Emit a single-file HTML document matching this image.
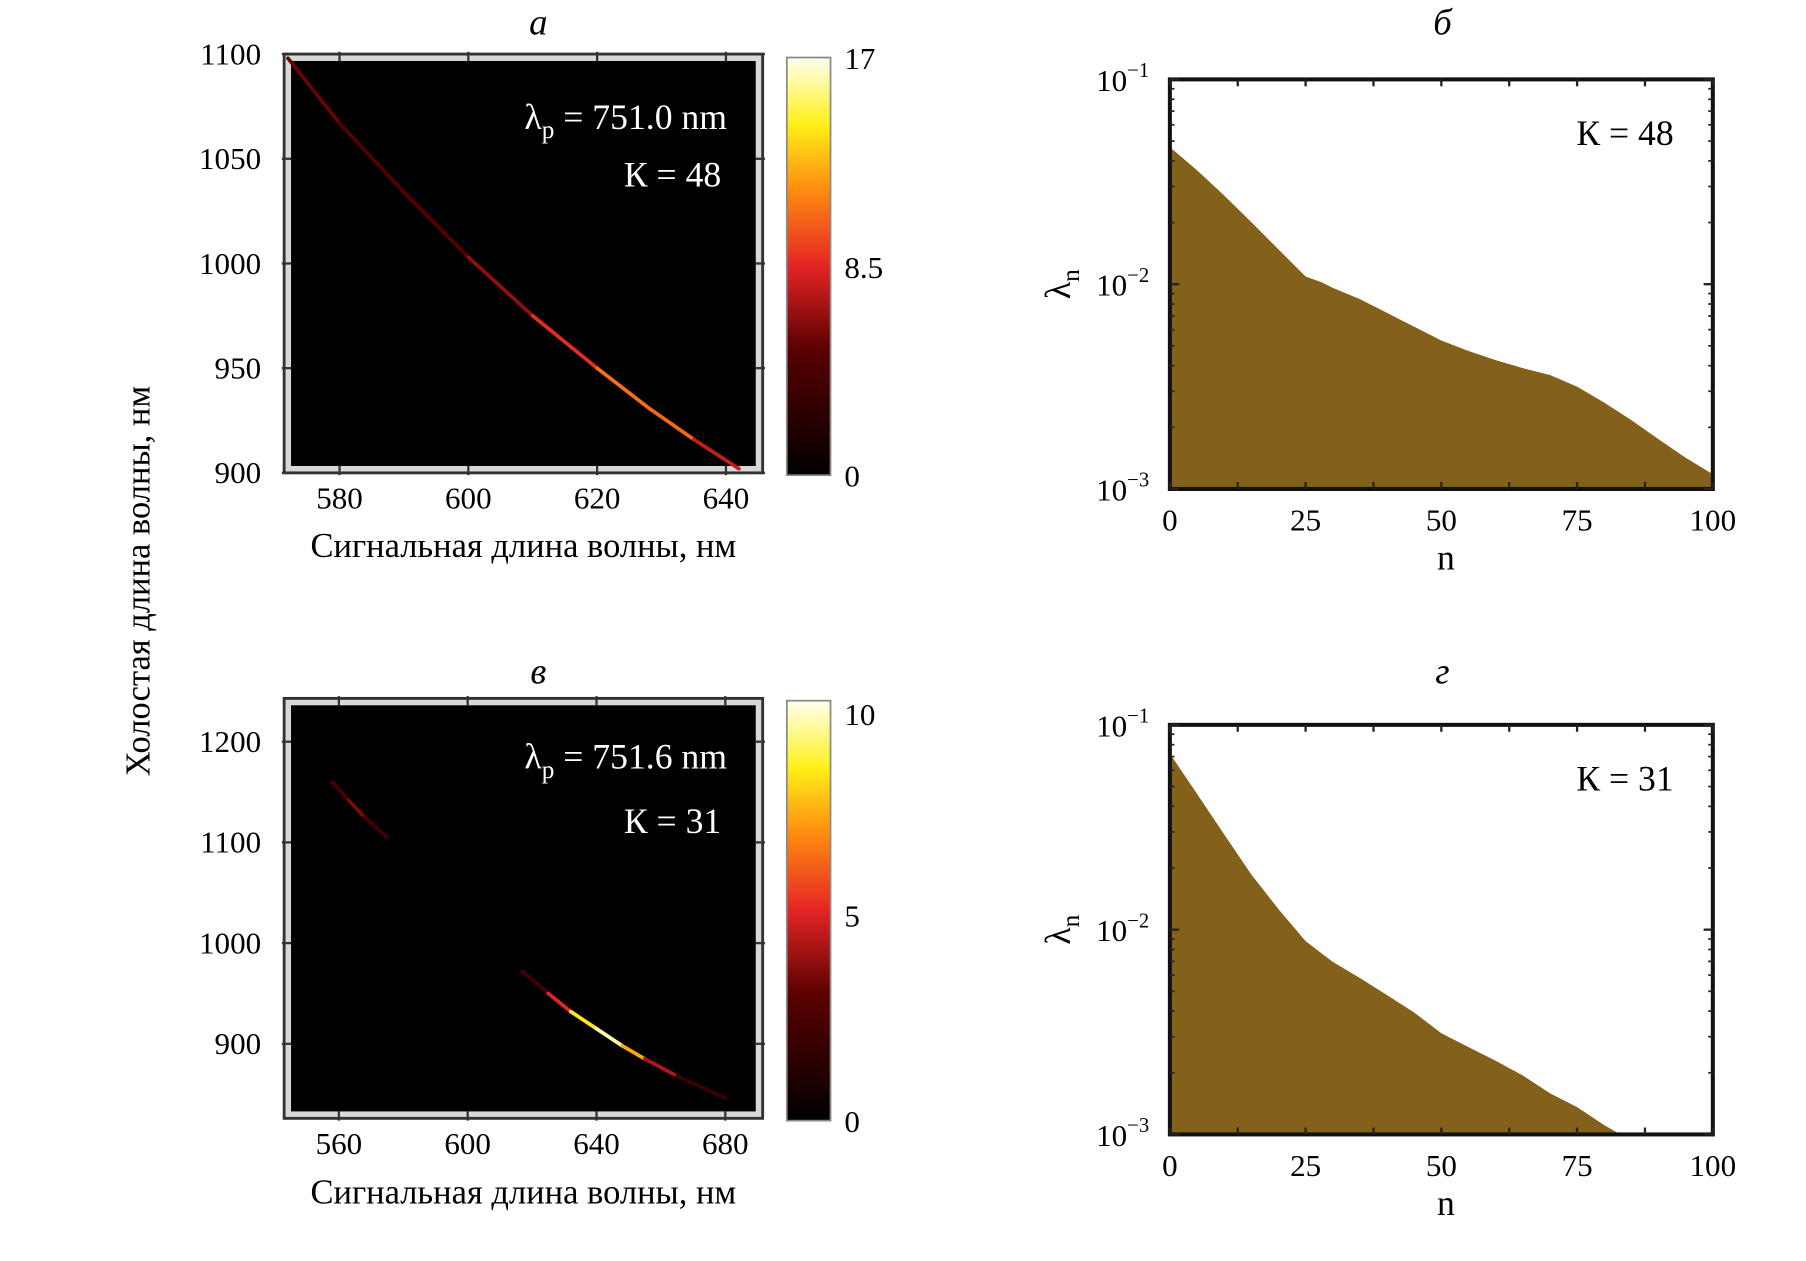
<!DOCTYPE html>
<html><head><meta charset="utf-8"><style>
html,body{margin:0;padding:0;background:#fff;}
svg{display:block;font-family:"Liberation Serif",serif;}
</style></head><body>
<svg id="fig" width="1806" height="1261" viewBox="0 0 1570 1096" preserveAspectRatio="none" xmlns="http://www.w3.org/2000/svg">
<defs>
<linearGradient id="hot" x1="0" y1="1" x2="0" y2="0">
<stop offset="0" stop-color="#000"/><stop offset="0.3" stop-color="#5a0000"/><stop offset="0.5" stop-color="#e42424"/><stop offset="0.68" stop-color="#ff8a10"/><stop offset="0.84" stop-color="#fff018"/><stop offset="1" stop-color="#fffff0"/>
</linearGradient>
</defs>
<text transform="translate(130,505) rotate(-90)" text-anchor="middle" font-size="30">Холостая длина волны, нм</text>
<g id="root"></g>
</svg>
<script>
// Panel a data
const aSignal=[572,580,590,600,610,620,628,635,642];
const aIdler=[1098,1067,1034,1003,975,950,931,916,902];
const aIntensity=[6,5,4.5,5.5,7.5,10,11.5,9.5,6];
// Panel в data
const cSignal1=[558,563,568,575];
const cIdler1=[1160,1142,1125,1105];
const cIntensity1=[1.5,3.5,3.5,1];
const cSignal2=[617,625,632,640,648,655,665,680];
const cIdler2=[972,950,932,915,898,885,868,846];
const cIntensity2=[1,3.5,6.5,10,9,5.5,3,1];
// Panel б data
const bN=[0,5,10,15,20,25,28,30,35,40,45,50,55,60,65,70,75,80,85,90,95,100];
const bVal=[0.0467,0.036,0.0271,0.0201,0.0148,0.0109,0.0102,0.0096,0.00845,0.00724,0.0062,0.00531,0.00472,0.00426,0.00389,0.0036,0.00316,0.00264,0.00217,0.00175,0.00142,0.00118];
// Panel г data
const dN=[0,5,10,15,20,25,30,35,40,45,50,55,60,65,70,75,80,83];
const dVal=[0.0724,0.046,0.0292,0.0186,0.0126,0.00879,0.00696,0.00581,0.00479,0.00394,0.00312,0.00267,0.00229,0.00194,0.00159,0.00136,0.00111,0.001];
const aXTicks=[580,600,620,640];
const aYTicks=[900,950,1000,1050,1100];
const cXTicks=[560,600,640,680];
const cYTicks=[900,1000,1100,1200];
const nTicks=[0,25,50,75,100];

const NS='http://www.w3.org/2000/svg';
const root=document.getElementById('root');
function el(tag,attrs,parent,txt){const e=document.createElementNS(NS,tag);for(const k in attrs)e.setAttribute(k,attrs[k]);if(txt!==undefined)e.textContent=txt;(parent||root).appendChild(e);return e;}
function hot(t){t=Math.max(0,Math.min(1,t));
 const st=[[0,[0,0,0]],[0.3,[90,0,0]],[0.5,[228,36,36]],[0.68,[255,138,16]],[0.84,[255,240,24]],[1,[255,255,240]]];
 for(let i=1;i<st.length;i++){if(t<=st[i][0]){const a=st[i-1],b=st[i];const f=(t-a[0])/(b[0]-a[0]);return 'rgb('+a[1].map((v,j)=>Math.round(v+(b[1][j]-v)*f)).join(',')+')';}}return 'rgb(255,255,240)';}

function heat(o){
 const g=el('g',{});
 
 
 const {x0,x1,y0,y1}=o;
 const sx=v=>x0+(v-o.xmin)/(o.xmax-o.xmin)*(x1-x0);
 const sy=v=>y1-(v-o.ymin)/(o.ymax-o.ymin)*(y1-y0);
 el('rect',{x:x0,y:y0,width:x1-x0,height:y1-y0,fill:'#d8d8d8',stroke:'#333','stroke-width':2.5},g);
 el('rect',{x:x0+6,y:y0+6,width:x1-x0-12,height:y1-y0-12,fill:'#000'},g);
 for(const s of o.series){
  for(let i=0;i<s.x.length-1;i++){
   const seg=el('line',{x1:sx(s.x[i]),y1:sy(s.y[i]),x2:sx(s.x[i+1]),y2:sy(s.y[i+1]),stroke:hot((s.v[i]+s.v[i+1])/2/o.vmax),'stroke-width':3.2,'stroke-linecap':'round'},g);
   
   
  }
 }
 o.xt.forEach(v=>{el('line',{x1:sx(v),x2:sx(v),y1:y1-6,y2:y1+2,stroke:'#333','stroke-width':2},g);el('line',{x1:sx(v),x2:sx(v),y1:y0-2,y2:y0+6,stroke:'#333','stroke-width':2},g);
  const t=el('text',{x:sx(v),y:y1+31,'text-anchor':'middle','font-size':27},g,String(v));});
 o.yt.forEach(v=>{el('line',{x1:x0-2,x2:x0+6,y1:sy(v),y2:sy(v),stroke:'#333','stroke-width':2},g);el('line',{x1:x1-6,x2:x1+2,y1:sy(v),y2:sy(v),stroke:'#333','stroke-width':2},g);
  const t=el('text',{x:x0-20,y:sy(v)+9,'text-anchor':'end','font-size':27},g,String(v));});
 const cb=el('rect',{x:o.cbx,y:o.cby0,width:38,height:o.cby1-o.cby0,fill:'url(#hot)',stroke:'#888','stroke-width':1.5},g);
 
 o.cbl.forEach(([lab,f])=>{const yy=o.cby1-f*(o.cby1-o.cby0);const t=el('text',{x:o.cbx+50,y:yy+10,'font-size':27},g,lab);});
 const tt=el('text',{x:468,y:o.ty,'text-anchor':'middle','font-size':32,'font-style':'italic'},g,o.title);
 const xl=el('text',{x:455,y:o.xly,'text-anchor':'middle','font-size':30},g,'Сигнальная длина волны, нм');
 const l1=el('text',{x:o.annx,y:o.l1y,'text-anchor':'end','font-size':31,fill:'#fff'},g);
 l1.innerHTML='λ<tspan dy="8" font-size="22">p</tspan><tspan dy="-8"> = '+o.pump+'</tspan>';
 const l2=el('text',{x:o.annx-5,y:o.l2y,'text-anchor':'end','font-size':31,fill:'#fff'},g,o.kl);
}
heat({name:'heatmap-a',x0:247,x1:663,y0:47,y1:411,xmin:571.4,xmax:645.7,ymin:900,ymax:1100,vmax:17,
 series:[{x:aSignal,y:aIdler,v:aIntensity}],xt:aXTicks,yt:aYTicks,cbx:684,cby0:50,cby1:413,cbl:[['17',1],['8.5',0.5],['0',0]],
 title:'а',ty:30,xly:484,annx:632,l1y:112,l2y:162,pump:'751.0 nm',kl:'К = 48'});
heat({name:'heatmap-v',x0:247,x1:663,y0:607,y1:972,xmin:543,xmax:691.6,ymin:826,ymax:1243,vmax:10,
 series:[{x:cSignal1,y:cIdler1,v:cIntensity1},{x:cSignal2,y:cIdler2,v:cIntensity2}],xt:cXTicks,yt:cYTicks,cbx:684,cby0:609,cby1:974,cbl:[['10',0.97],['5',0.49],['0',0]],
 title:'в',ty:594,xly:1046,annx:632,l1y:668,l2y:724,pump:'751.6 nm',kl:'К = 31'});

function bars(o){
 const g=el('g',{});
 
 
 const {x0,x1,y0,y1}=o;
 const sx=n=>x0+n/100*(x1-x0);
 const sy=v=>y0+(-1-Math.log10(v))/2*(y1-y0);
 el('rect',{x:x0,y:y0,width:x1-x0,height:y1-y0,fill:'#fff'},g);
 let d='M'+sx(o.n[0])+','+y1;
 o.n.forEach((n,i)=>{d+=' L'+sx(n)+','+sy(o.v[i]);});
 d+=' L'+sx(o.n[o.n.length-1])+','+y1+' Z';
 const a=el('path',{d:d,fill:'#83611a'},g);
 
 
 el('rect',{x:x0,y:y0,width:x1-x0,height:y1-y0,fill:'none',stroke:'#111','stroke-width':3.5},g);
 for(let k=0;k<=8;k++){const xx=sx(k*12.5);el('line',{x1:xx,x2:xx,y1:y1,y2:y1-6,stroke:'#222','stroke-width':2},g);el('line',{x1:xx,x2:xx,y1:y0,y2:y0+6,stroke:'#222','stroke-width':2},g);}
 for(let e=-3;e<-1;e++)for(let m=2;m<10;m++){const yy=sy(m*Math.pow(10,e));el('line',{x1:x0,x2:x0+4,y1:yy,y2:yy,stroke:'#222','stroke-width':1.5},g);el('line',{x1:x1,x2:x1-4,y1:yy,y2:yy,stroke:'#222','stroke-width':1.5},g);}
 [-1,-2,-3].forEach(e=>{const yy=sy(Math.pow(10,e));el('line',{x1:x0,x2:x0+8,y1:yy,y2:yy,stroke:'#222','stroke-width':2},g);el('line',{x1:x1,x2:x1-8,y1:yy,y2:yy,stroke:'#222','stroke-width':2},g);
  const t=el('text',{x:x0-18,y:yy+10,'text-anchor':'end','font-size':27},g);
  t.innerHTML='10<tspan dy="-12" font-size="18">−'+(-e)+'</tspan>';});
 nTicks.forEach(n=>{const t=el('text',{x:sx(n),y:y1+36,'text-anchor':'middle','font-size':27},g,String(n));});
 const xl=el('text',{x:1257,y:y1+70,'text-anchor':'middle','font-size':31},g,'n');
 const yl=el('text',{transform:'translate(930,'+(y0+(y1-y0)/2)+') rotate(-90)','text-anchor':'middle','font-size':31},g);
 yl.innerHTML='λ<tspan dy="8" font-size="22">n</tspan>';
 const tt=el('text',{x:1254,y:o.ty,'text-anchor':'middle','font-size':32,'font-style':'italic'},g,o.title);
 const k=el('text',{x:1455,y:y0+57,'text-anchor':'end','font-size':31},g,o.kl);
}
bars({name:'eigenvalues-b',x0:1017,x1:1489,y0:69,y1:425,n:bN,v:bVal,title:'б',ty:30,kl:'К = 48'});
bars({name:'eigenvalues-g',x0:1017,x1:1489,y0:630,y1:986,n:dN,v:dVal,title:'г',ty:594,kl:'К = 31'});
</script>
</body></html>
